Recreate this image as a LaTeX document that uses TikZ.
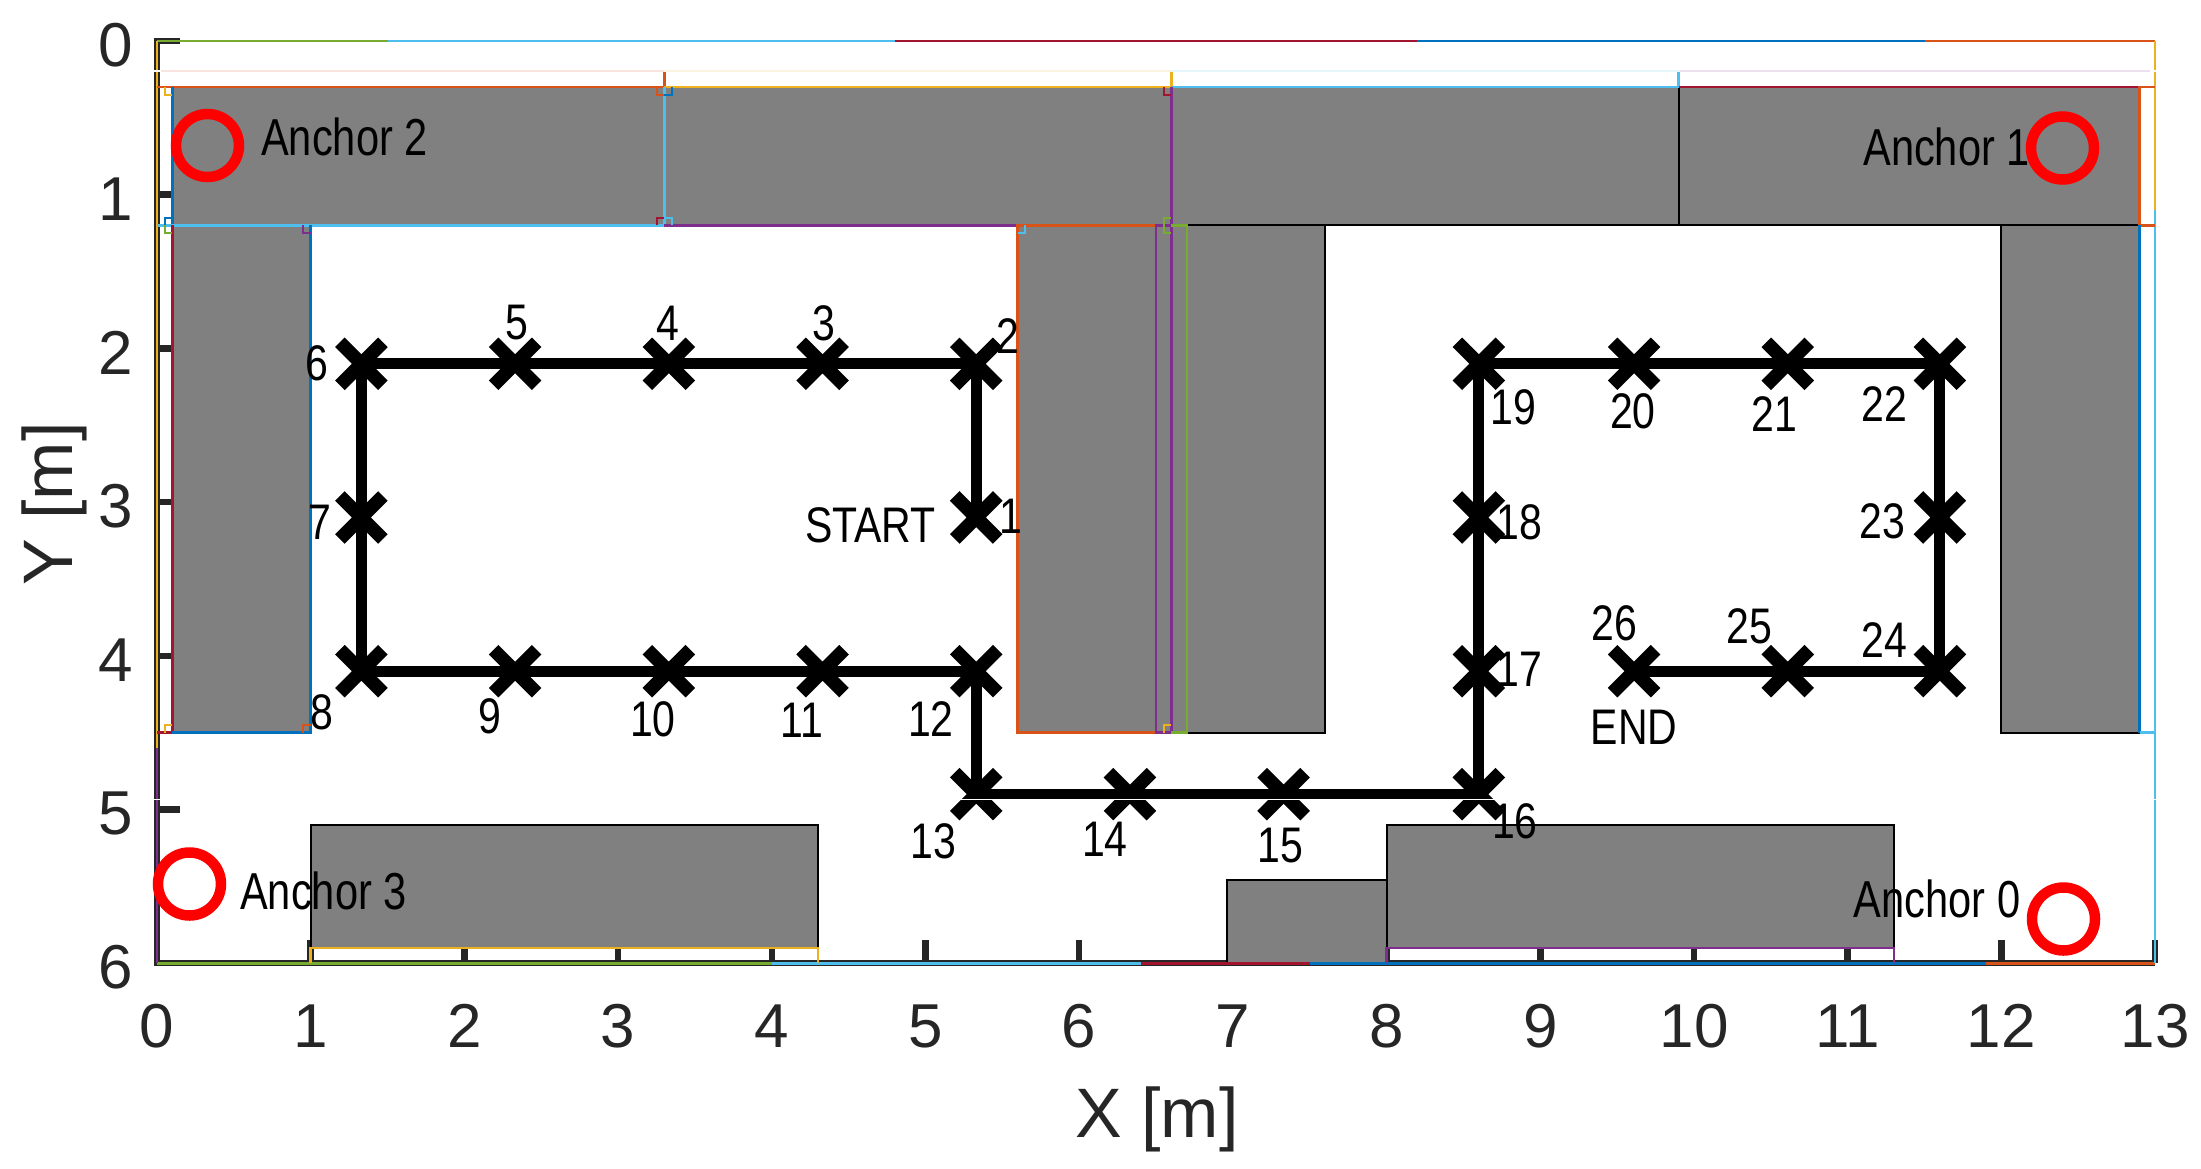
\documentclass[tikz,border=0pt]{standalone}
\usepackage{graphicx}
\usepackage{fontspec}
\setmainfont{Liberation Sans}
\usetikzlibrary{shapes.misc}
\definecolor{mblue}{HTML}{0072BD}
\definecolor{morange}{HTML}{D95319}
\definecolor{myellow}{HTML}{EDB120}
\definecolor{mpurple}{HTML}{7E2F8E}
\definecolor{mgreen}{HTML}{77AC30}
\definecolor{mcyan}{HTML}{4DBEEE}
\definecolor{mred}{HTML}{A2142F}
\definecolor{axisgray}{HTML}{262626}
\definecolor{wallgray}{HTML}{808080}
\newcommand{\lblfont}{\fontsize{50pt}{50pt}\selectfont}
\newcommand{\narrowtxt}[1]{\scalebox{0.82}[1]{\lblfont #1}}
\newcommand{\ancfont}[1]{\scalebox{0.80}[1]{\fontsize{52pt}{52pt}\selectfont #1}}
\newcommand{\anglemark}[5]{\draw[seg=#1,line width=2pt]
  ([shift={(#4*7.5pt,0pt)}]#2,#3) -- ([shift={(#4*7.5pt,-#5*7.5pt)}]#2,#3) -- ([shift={(0pt,-#5*7.5pt)}]#2,#3);}
\tikzset{
  wall/.style={fill=wallgray,draw=black,line width=2pt},
  seg/.style={draw=#1,line width=2.6pt},
  axisline/.style={draw=axisgray,line width=6.5pt},
  tickline/.style={draw=axisgray,line width=6.5pt},
  ticktext/.style={text=axisgray,inner sep=0pt,font=\fontsize{62pt}{62pt}\selectfont},
  axistitle/.style={text=axisgray,inner sep=0pt,font=\fontsize{70pt}{70pt}\selectfont},
  ring/.style={circle,draw=red,line width=10.5pt,minimum size=63pt,inner sep=0pt,outer sep=0pt},
  wp/.style={cross out,draw=black,line width=13.5pt,minimum size=43pt,inner sep=0pt,outer sep=0pt},
  route/.style={draw=black,line width=11pt},
  lbl/.style={text=black,inner sep=0pt},
}
\begin{document}
\begin{tikzpicture}[x=1pt,y=-1pt]
\useasboundingbox (0,0) rectangle (2201,1168);
\begin{scope}[shift={(157pt,-41pt)},x=153.7pt,y=-153.7pt]
% axes
\draw[axisline] (0,-0.02) -- (0,6) -- (13,6);
\foreach \i in {0,...,6} \draw[tickline] (0,\i) -- ++(23pt,0pt);
\foreach \i in {0,...,13} \draw[tickline] (\i,6) -- ++(0pt,23pt);
% walls
\path[wall] (0.1,0.3) rectangle (3.3,1.2);
\path[wall] (3.3,0.3) rectangle (6.6,1.2);
\path[wall] (6.6,0.3) rectangle (9.9,1.2);
\path[wall] (9.9,0.3) rectangle (12.9,1.2);
\path[wall] (0.1,1.2) rectangle (1,4.5);
\path[wall] (5.6,1.2) rectangle (6.6,4.5);
\path[wall] (6.6,1.2) rectangle (7.6,4.5);
\path[wall] (12,1.2) rectangle (12.9,4.5);
\path[wall] (1,5.1) rectangle (4.3,5.9);
\path[wall] (8,5.1) rectangle (11.3,5.9);
\path[wall] (6.96,5.46) rectangle (8,6);
% coloured outline segments: top of the room
\draw[seg=mgreen] (0,0) -- (1.5,0);
\draw[seg=mcyan] (1.5,0) -- (4.8,0);
\draw[seg=mred] (4.8,0) -- (8.2,0);
\draw[seg=mblue] (8.2,0) -- (11.5,0);
\draw[seg=morange] (11.5,0) -- (13,0);
% bottom of the room
\draw[seg=mgreen] (0,6) -- (4,6);
\draw[seg=mcyan] (4,6) -- (6.4,6);
\draw[seg=mred] (6.4,6) -- (7.5,6);
\draw[seg=mblue] (7.5,6) -- (11.9,6);
\draw[seg=morange] (11.9,6) -- (13,6);
% left and right of the room
\draw[seg=myellow] (0,0) -- (0,4.6);
\draw[seg=mpurple] (0,4.6) -- (0,6);
\draw[seg=myellow] (13,0) -- (13,1.1);
\draw[seg=mcyan] (13,1.1) -- (13,6);
% top band
\draw[seg=morange] (0,0.3) -- (3.3,0.3) -- (3.3,0.2);
\draw[seg=myellow] (3.3,0.3) -- (6.6,0.3) -- (6.6,0.2);
\draw[seg=mcyan] (6.6,0.3) -- (9.9,0.3) -- (9.9,0.2);
\draw[seg=mred] (9.9,0.3) -- (12.9,0.3);
\draw[seg=morange] (13,0.3) -- (12.9,0.3) -- (12.9,1.2) -- (13,1.2);
\draw[seg=mblue] (0.1,0.3) -- (0.1,1.2);
\draw[seg=mcyan] (0,1.2) -- (3.3,1.2) -- (3.3,0.3);
\draw[seg=mpurple] (3.3,1.2) -- (5.6,1.2);
\draw[seg=mpurple] (6.6,0.3) -- (6.6,1.2);
% left column
\draw[seg=mred] (0.1,1.2) -- (0.1,4.5) -- (0,4.5);
\draw[seg=mblue] (0.1,4.5) -- (1,4.5) -- (1,1.2);
% middle column
\draw[seg=morange] (6.5,1.2) -- (5.6,1.2) -- (5.6,4.5) -- (6.5,4.5);
\draw[seg=mpurple] (6.5,1.2) -- (6.5,4.5) -- (6.6,4.5) -- (6.6,1.2) -- cycle;
\draw[seg=mgreen] (6.6,1.2) -- (6.7,1.2) -- (6.7,4.5) -- (6.6,4.5);
% right column
\draw[seg=mblue] (12.9,1.2) -- (12.9,4.5);
\draw[seg=mcyan] (12.9,4.5) -- (13,4.5);
% floor strips
\draw[seg=myellow] (1,6) -- (1,5.9) -- (4.3,5.9) -- (4.3,6);
\draw[seg=mpurple] (8,6) -- (8,5.9) -- (11.3,5.9) -- (11.3,6);
% right-angle marks
\anglemark{myellow}{0.1}{0.3}{-1}{1}
\anglemark{morange}{3.3}{0.3}{-1}{1}
\anglemark{mblue}{3.3}{0.3}{1}{1}
\anglemark{mred}{3.3}{1.2}{-1}{-1}
\anglemark{mcyan}{3.3}{1.2}{1}{-1}
\anglemark{mblue}{0.1}{1.2}{-1}{-1}
\anglemark{mgreen}{0.1}{1.2}{-1}{1}
\anglemark{mpurple}{1}{1.2}{-1}{1}
\anglemark{mred}{6.6}{0.3}{-1}{1}
\anglemark{mgreen}{6.6}{1.2}{-1}{-1}
\anglemark{mgreen}{6.6}{1.2}{-1}{1}
\anglemark{mcyan}{5.6}{1.2}{1}{1}
\anglemark{myellow}{6.6}{4.5}{-1}{-1}
\anglemark{myellow}{0.1}{4.5}{-1}{-1}
\anglemark{morange}{1}{4.5}{-1}{-1}
% waypoints
\foreach \n/\px/\py in {1/5.33/3.1,2/5.33/2.1,3/4.33/2.1,4/3.33/2.1,5/2.33/2.1,6/1.33/2.1,7/1.33/3.1,8/1.33/4.1,9/2.33/4.1,10/3.33/4.1,11/4.33/4.1,12/5.33/4.1,13/5.33/4.9,14/6.33/4.9,15/7.33/4.9,16/8.6/4.9,17/8.6/4.1,18/8.6/3.1,19/8.6/2.1,20/9.61/2.1,21/10.61/2.1,22/11.6/2.1,23/11.6/3.1,24/11.6/4.1,25/10.61/4.1,26/9.61/4.1}
  \node[wp] (p\n) at (\px,\py) {};
\draw[route] (p1.center) -- (p2.center) -- (p3.center) -- (p4.center) -- (p5.center) -- (p6.center) -- (p7.center) -- (p8.center) -- (p9.center) -- (p10.center) -- (p11.center) -- (p12.center) -- (p13.center) -- (p14.center) -- (p15.center) -- (p16.center) -- (p17.center) -- (p18.center) -- (p19.center) -- (p20.center) -- (p21.center) -- (p22.center) -- (p23.center) -- (p24.center) -- (p25.center) -- (p26.center);
\end{scope}
% image seams
\draw[white,line width=1pt] (150,799) -- (2165,799);
\draw[white,line width=1.4pt] (150,71) -- (2165,71);
\draw[morange!15,line width=1.2pt] (161,71) -- (664,71);
\draw[myellow!15,line width=1.2pt] (664,71) -- (1171,71);
\draw[mcyan!15,line width=1.2pt] (1171,71) -- (1680,71);
\draw[mpurple!15,line width=1.2pt] (1680,71) -- (2150,71);
% anchors
\node[ring] (anchorA) at (207.5,145.5) {};
\node[ring] (anchorB) at (2062.5,148) {};
\node[ring] (anchorC) at (189.5,884) {};
\node[ring] (anchorD) at (2063.5,919) {};
\node[lbl] (tA) at (344.5,136.5) {\ancfont{Anchor 2}};
\node[lbl] (tB) at (1946.5,146.5) {\ancfont{Anchor 1}};
\node[lbl] (tC) at (323.5,891) {\ancfont{Anchor 3}};
\node[lbl] (tD) at (1937,898.5) {\ancfont{Anchor 0}};
% waypoint labels
\foreach \t/\lx/\ly in {1/720/368,2/718/239,3/587/230,4/476/230,5/368/230,6/226/259,7/228/372,8/229/507,9/349/510,10/465/512,11/571/513,12/663/512,13/665/599,14/787/598,15/912/602,16/1079/585,17/1082/477,18/1082/372,19/1078/290,20/1163/293,21/1264/295,22/1342/288,23/1341/371,24/1342/456,25/1246/446,26/1150/444,START/620/374,END/1164/518}
  \node[lbl] (w\t) at ({\lx*1.404},{\ly*1.404}) {\narrowtxt{\t}};
% tick labels
\foreach \i in {0,...,13} \node[ticktext] (xt\i) at ({157+153.7*\i},1026) {\i};
\foreach \i in {0,...,6} \node[ticktext,anchor=east] (yt\i) at (133,{45+153.7*\i}) {\i};
\node[axistitle,anchor=base] (xtitle) at (1157,1137) {X [m]};
\node[axistitle,anchor=base,rotate=90] (ytitle) at (72,504) {Y [m]};
\end{tikzpicture}
\end{document}
